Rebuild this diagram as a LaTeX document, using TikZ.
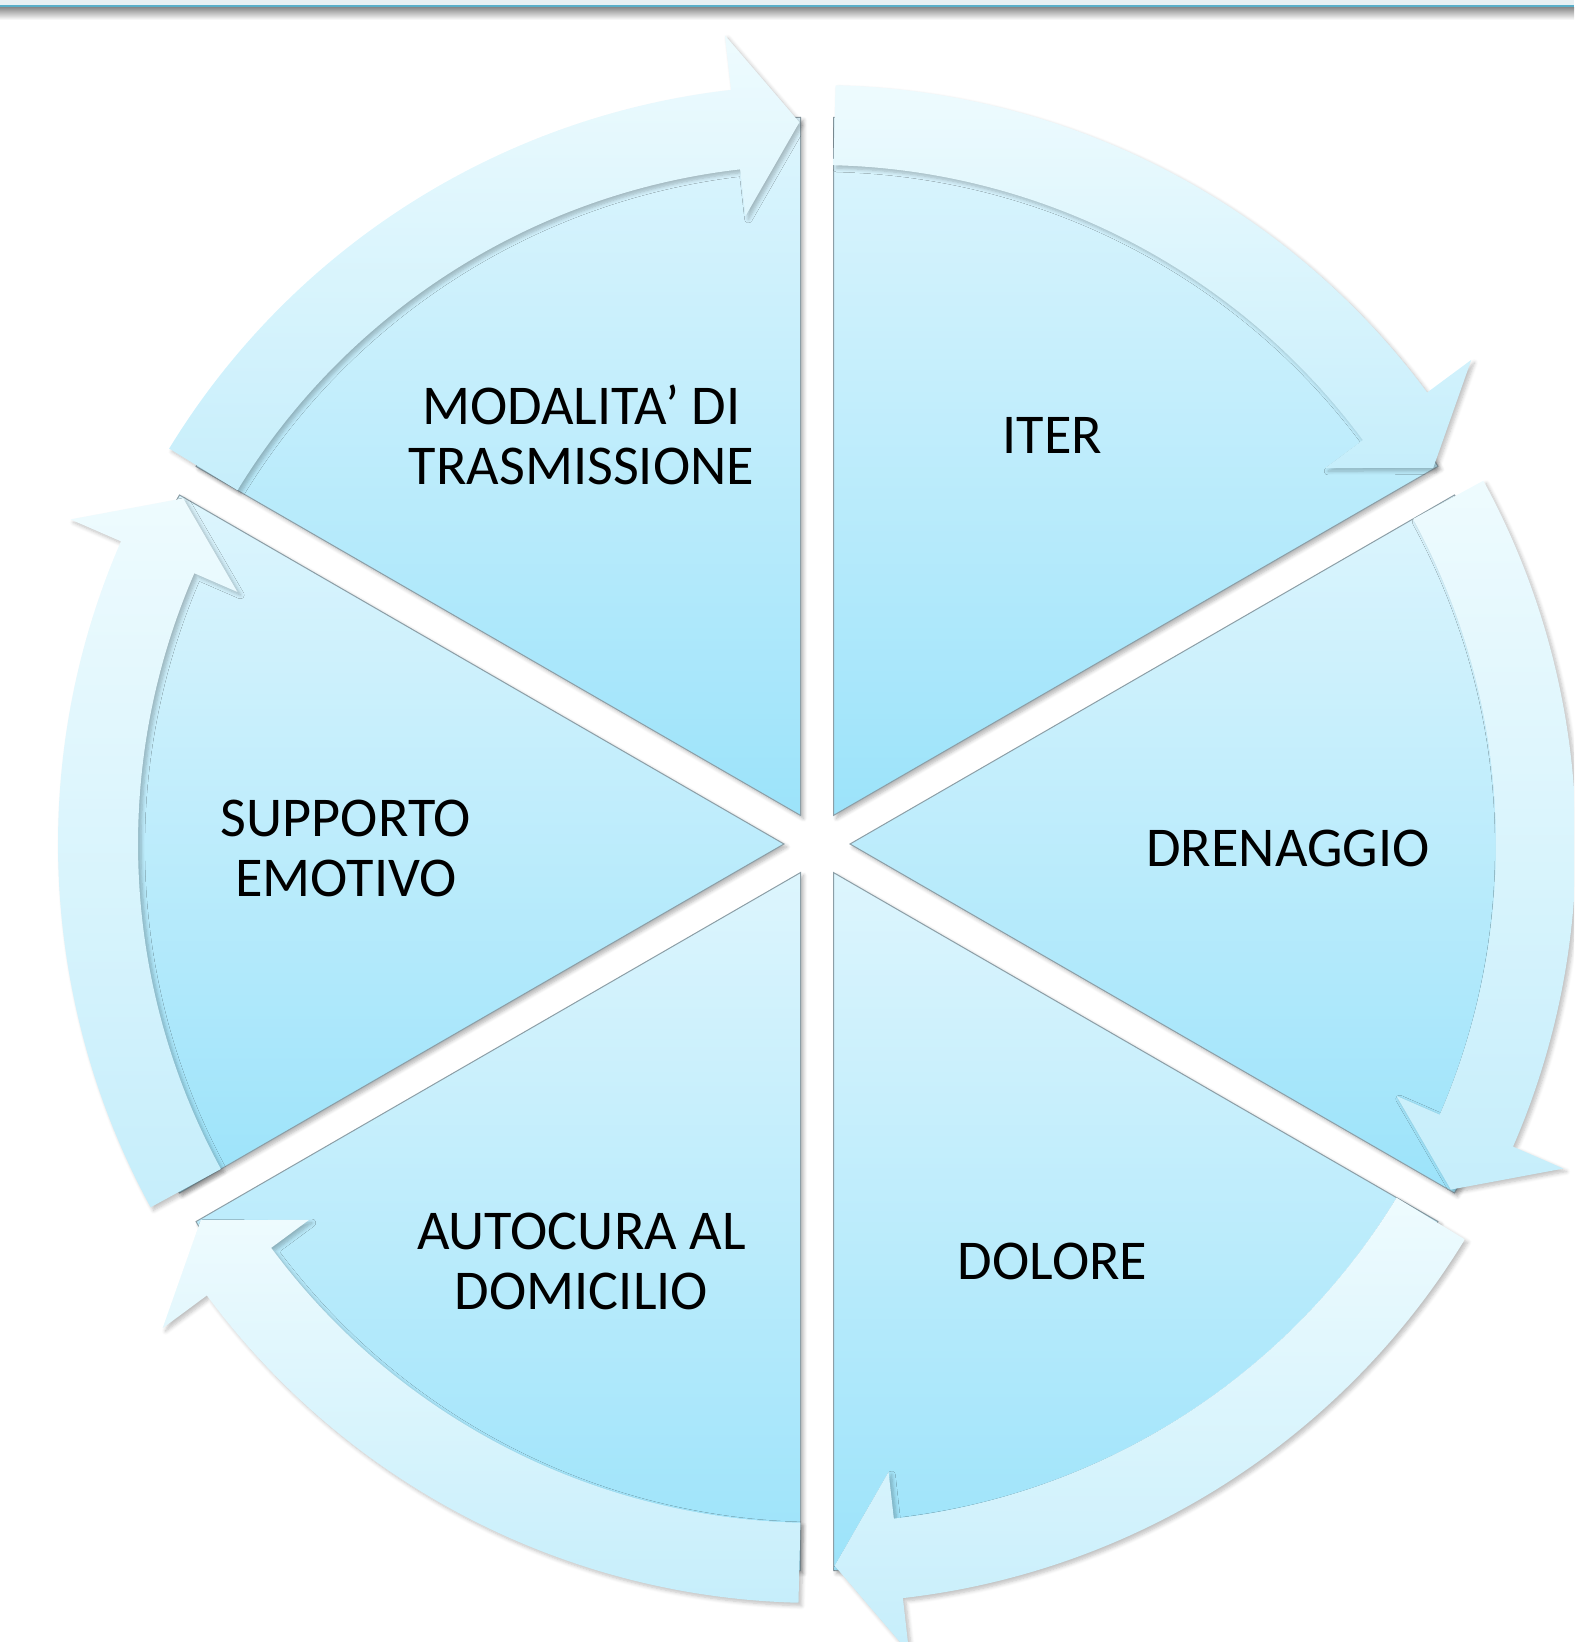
\documentclass[tikz,border=0pt]{standalone}
\usepackage{fontspec}
\setmainfont{Carlito}
\usetikzlibrary{shadows.blur}

\definecolor{wedgetop}{HTML}{DDF5FD}
\definecolor{wedgebot}{HTML}{9CE3FA}
\definecolor{bandtop}{HTML}{EEFBFE}
\definecolor{bandbot}{HTML}{C6EEFB}
\definecolor{edgegray}{HTML}{8C9EA6}
\definecolor{barblue}{HTML}{5AAFC9}
\definecolor{barlight}{HTML}{E8F0F3}

\tikzset{
  wedge/.style={top color=wedgetop, bottom color=wedgebot, draw=edgegray, line width=0.5pt,
    blur shadow={shadow xshift=1.5pt, shadow yshift=-1.5pt, shadow blur steps=6, shadow opacity=30}},
  band/.style={top color=bandtop, bottom color=bandbot,
    blur shadow={shadow xshift=1.5pt, shadow yshift=-1.5pt, shadow blur steps=6, shadow opacity=25}},
  lbl/.style={align=center, inner sep=0.75pt, font=\fontsize{28.1}{30}\selectfont}
}

\begin{document}
\begin{tikzpicture}[x=0.5pt,y=0.5pt]
%set diagram: 1574 x 1642, centre of the cycle at the origin
\useasboundingbox (-817,-798) rectangle (757,844);
\clip (-817,-798) rectangle (757,844);

%Shape: top bar
\fill [barlight] (-817,839) rectangle (757,844);
\fill [barblue] (-817,836.5) rectangle (757,839);
\shade [top color=black!45, bottom color=white] (-817,824) rectangle (757,836.5);

%Shape: pie segments
\foreach \s [count=\i] in {90,30,-30,-90,-150,150}{
  \path [wedge] (\s-30:33) -- ++(\s:698) arc [start angle=\s, end angle=\s-60, radius=698] -- cycle;
}

%Shape: circular arrows
\foreach \s [count=\i] in {90,30,-30,-90,-150,150}{
  \pgfmathsetmacro\ast{\s-1.4}
  \pgfmathsetmacro\abase{\s-53.5}
  \pgfmathsetmacro\atip{\s-58.6}
  \path [band] (\ast:759) arc [start angle=\ast, end angle=\abase, radius=759]
    -- (\abase:814) -- (\atip:722) -- (\abase:632) -- (\abase:679)
    arc [start angle=\abase, end angle=\ast, radius=679] -- cycle;
}

% Text Node
\foreach \s/\txt [count=\i] in {90/ITER, 30/DRENAGGIO, -30/DOLORE, -90/{AUTOCURA AL\\DOMICILIO},
    -150/{SUPPORTO\\EMOTIVO}, 150/{MODALITA’ DI\\TRASMISSIONE}}{
  \node [lbl, yshift=-2.2pt] (lab\i) at (\s-30:471 and 477) {\txt};
}

\end{tikzpicture}
\end{document}
